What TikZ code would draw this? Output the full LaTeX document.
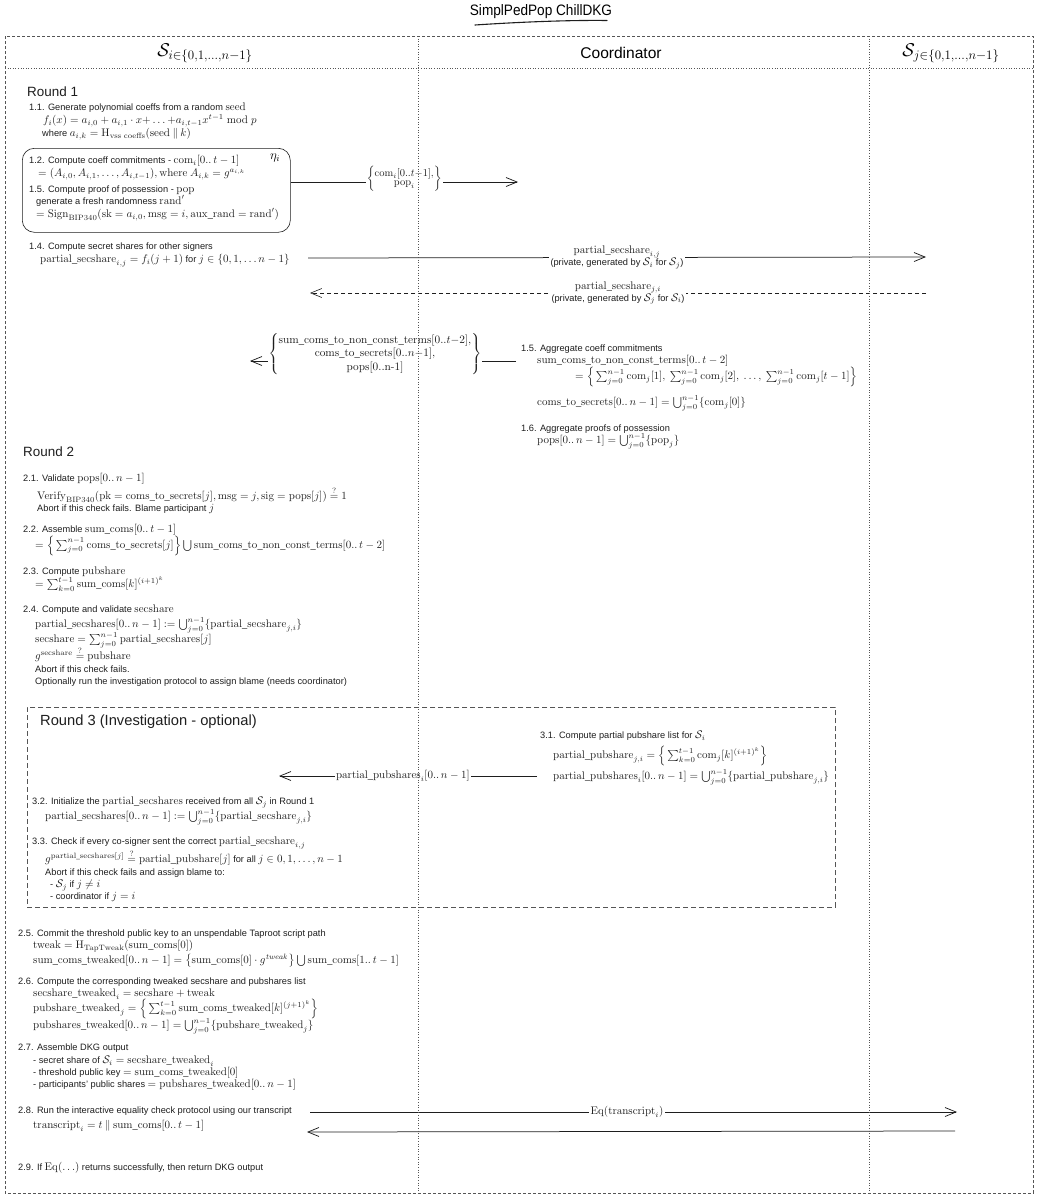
\RequirePackage{fix-cm}
\documentclass[tikz,border=0pt]{standalone}
\usepackage{amsmath,amssymb}
\usepackage[no-math]{fontspec}
\setmainfont{Liberation Sans}[Scale=0.84]
\newfontfamily\titlefont{Liberation Sans}[Scale=0.84,FakeStretch=0.9]
\usetikzlibrary{arrows.meta}
\definecolor{framegray}{HTML}{555555}
\definecolor{inkgray}{HTML}{1E1E1E}
\newcommand{\mrm}[1]{\mathrm{#1}}
\newcommand{\hyph}{\mbox{\fontfamily{lmr}\selectfont -}}
\setlength{\lineskiplimit}{-50pt}

\begin{document}
\begin{tikzpicture}[x=1pt,y=-1pt,
  stepnote/.style={anchor=north west, align=left, inner sep=0pt, text=inkgray,
    font=\fontsize{11}{13}\selectfont},
  roundlbl/.style={anchor=west, inner sep=0pt, text=inkgray, font=\fontsize{16}{18}\selectfont},
  hdrmath/.style={inner sep=0pt, font=\fontsize{18.5}{20}\selectfont},
  hdrtxt/.style={inner sep=0pt, font=\fontsize{18.5}{20}\selectfont},
  msglbl/.style={fill=white, inner sep=1.5pt, align=center, text=inkgray,
    font=\fontsize{11}{12}\selectfont},
  bracelbl/.style={fill=white, inner sep=1pt, text=inkgray, font=\fontsize{11.3}{13.5}\selectfont,
    execute at begin node={\setlength{\lineskiplimit}{0pt}}},
  msgarr/.style={-{Straight Barb[length=11pt,width=9pt]}, line width=0.75pt, color=inkgray},
  lifeline/.style={dotted, line width=0.6pt, color=framegray},
  framebox/.style={dash pattern=on 3pt off 2pt, line width=0.6pt, color=framegray}
]
\useasboundingbox (0,0) rectangle (1038,1200);

% title
\node[font=\titlefont\fontsize{18}{20}\selectfont] (title) at (541,12) {SimplPedPop ChillDKG};
\draw[line width=1.1pt, line cap=round, color=inkgray] (475,25) .. controls (520,22) and (570,20) .. (607,20.5);

% headers
\node[hdrmath] (hdrSi) at (205,53) {$\mathcal{S}_{i\in\{0,1,\ldots,n-1\}}$};
\node[hdrtxt] (hdrC) at (621,53) {Coordinator};
\node[hdrmath] (hdrSj) at (951,53) {$\mathcal{S}_{j\in\{0,1,\ldots,n-1\}}$};

% Round 1
\node[roundlbl] (r1) at (27,92) {Round 1};
\node[stepnote] (s11) at (29,103) {1.1. Generate polynomial coeffs from a random $\mrm{seed}$\\
  \hspace*{14pt}$f_i(x) = a_{i,0} + a_{i,1}\cdot x{+}\ldots{+}a_{i,t-1}x^{t-1} \bmod p$\\
  \hspace*{13pt}where $a_{i,k} = \mrm{H}_{\mrm{vss\ coeffs}}(\mrm{seed} \mathbin{\|} k)$};

\node[draw=inkgray, line width=0.6pt, rounded corners=12pt, minimum width=268pt, minimum height=84pt,
  anchor=north west, inner sep=0pt] (commitbox) at (22,148) {};
\node[font=\fontsize{13}{14}\selectfont, inner sep=0pt] (etai) at (275,158) {$\eta_i$};
\node[stepnote] (s12) at (29,155) {1.2. Compute coeff commitments - $\mrm{com}_i[0..\,t-1]$\\
  \hspace*{9pt}$= (A_{i,0}, A_{i,1}, \ldots, A_{i,t-1}), \mrm{where}\ A_{i,k} = g^{a_{i,k}}$};
\node[stepnote] (s15) at (29,186) {1.5. Compute proof of possession - $\mrm{pop}$\\[-1pt]
  \hspace*{7pt}generate a fresh randomness $\mrm{rand}'$\\
  \hspace*{7pt}$= \mrm{Sign}_{\mrm{BIP340}}(\mrm{sk} = a_{i,0}, \mrm{msg} = i, \mrm{aux\_rand} = \mrm{rand}')$};

\coordinate (comout) at (518,182);
\draw[msgarr] (commitbox.east |- comout) -- node[bracelbl, font=\fontsize{10.5}{12}\selectfont, yshift=3pt] (comlbl)
  {$\left\{\begin{array}{@{}c@{}}\mrm{com}_i[0..t{-}1],\\[-3pt] \mrm{pop}_i\end{array}\right\}$} (comout);

\node[stepnote] (s14) at (29,243) {1.4. Compute secret shares for other signers\\
  \hspace*{11pt}$\mrm{partial\_secshare}_{i,j} = f_i(j+1)$ for $j \in \{0,1,\ldots n-1\}$};
\coordinate (shareout) at (308,258);
\coordinate (sharein) at (926,257);
\draw[msgarr] (shareout) -- node[msglbl] (sharelbl)
  {$\mrm{partial\_secshare}_{i,j}$\\(private, generated by $\mathcal{S}_i$ for $\mathcal{S}_j$)} (sharein);
\coordinate (backout) at (926,293);
\coordinate (backin) at (310,293);
\draw[msgarr, line width=0.6pt, dash pattern=on 4pt off 3pt] (backout) -- node[msglbl] (backlbl)
  {$\mrm{partial\_secshare}_{j,i}$\\(private, generated by $\mathcal{S}_j$ for $\mathcal{S}_i$)} (backin);

% coordinator aggregation
\node[stepnote] (s15c) at (521,345) {1.5. Aggregate coeff commitments\\[-1pt]
  \hspace*{16pt}$\mrm{sum\_coms\_to\_non\_const\_terms}[0..\,t-2]$\\[3pt]
  \hspace*{54pt}$= \Big\{\sum_{j=0}^{n-1}\mrm{com}_j[1],\ \sum_{j=0}^{n-1}\mrm{com}_j[2],\ \ldots,\ \sum_{j=0}^{n-1}\mrm{com}_j[t-1]\Big\}$\\[13pt]
  \hspace*{16pt}$\mrm{coms\_to\_secrets}[0..\,n-1] = \bigcup_{j=0}^{n-1}\{\mrm{com}_j[0]\}$};
\node[stepnote] (s16c) at (521,425) {1.6. Aggregate proofs of possession\\[-1pt]
  \hspace*{16pt}$\mrm{pops}[0..\,n-1] = \bigcup_{j=0}^{n-1}\{\mrm{pop}_j\}$};
\coordinate (aggout) at (516,361);
\coordinate (aggin) at (250,361);
\draw[msgarr] (aggout) -- node[bracelbl, pos=0.53, yshift=7pt] (agglbl)
  {$\left\{\begin{array}{@{}c@{}}\mrm{sum\_coms\_to\_non\_const\_terms}[0..t{-}2],\\
    \mrm{coms\_to\_secrets}[0..n{-}1],\\ \mrm{pops}[0..\mrm{n}\hyph\mrm{1}]\end{array}\right\}$} (aggin);

% Round 2
\node[roundlbl] (r2) at (23,452) {Round 2};
\node[stepnote] (s21) at (23,473) {2.1. Validate $\mrm{pops}[0..\,n-1]$\\[5pt]
  \hspace*{14pt}$\mrm{Verify}_{\mrm{BIP340}}(\mrm{pk} = \mrm{coms\_to\_secrets}[j], \mrm{msg} = j, \mrm{sig} = \mrm{pops}[j]) \stackrel{?}{=} 1$\\[-1pt]
  \hspace*{14pt}Abort if this check fails. Blame participant $j$};
\node[stepnote] (s22) at (23,524) {2.2. Assemble $\mrm{sum\_coms}[0..\,t-1]$\\[3pt]
  \hspace*{12pt}$= \Big\{\sum_{j=0}^{n-1}\mrm{coms\_to\_secrets}[j]\Big\}\bigcup\mrm{sum\_coms\_to\_non\_const\_terms}[0..\,t-2]$};
\node[stepnote] (s23) at (23,567) {2.3. Compute $\mrm{pubshare}$\\
  \hspace*{12pt}$= \sum_{k=0}^{t-1}\mrm{sum\_coms}[k]^{(i+1)^k}$};
\node[stepnote] (s24) at (23,605) {2.4. Compute and validate $\mrm{secshare}$\\[2pt]
  \hspace*{12pt}$\mrm{partial\_secshares}[0..\,n-1] := \bigcup_{j=0}^{n-1}\{\mrm{partial\_secshare}_{j,i}\}$\\[2pt]
  \hspace*{12pt}$\mrm{secshare} = \sum_{j=0}^{n-1}\mrm{partial\_secshares}[j]$\\[4pt]
  \hspace*{12pt}$g^{\mrm{secshare}} \stackrel{?}{=} \mrm{pubshare}$\\
  \hspace*{12pt}Abort if this check fails.\\[-1pt]
  \hspace*{12pt}Optionally run the investigation protocol to assign blame (needs coordinator)};

% Round 3
\node[draw=framegray, line width=0.6pt, dash pattern=on 5pt off 3pt, minimum width=808pt, minimum height=200pt,
  anchor=north west, inner sep=0pt] (r3box) at (27,707) {};
\node[roundlbl, font=\fontsize{17.5}{19}\selectfont] (r3) at (40,722) {Round 3 (Investigation - optional)};
\node[stepnote] (s31) at (540,731) {3.1. Compute partial pubshare list for $\mathcal{S}_i$\\[7pt]
  \hspace*{13pt}$\mrm{partial\_pubshare}_{j,i} = \Big\{\sum_{k=0}^{t-1}\mrm{com}_j[k]^{(i+1)^k}\Big\}$\\[8pt]
  \hspace*{13pt}$\mrm{partial\_pubshares}_i[0..\,n-1] = \bigcup_{j=0}^{n-1}\{\mrm{partial\_pubshare}_{j,i}\}$};
\coordinate (pubout) at (537,776);
\coordinate (pubin) at (279,776);
\draw[msgarr] (pubout) -- node[msglbl, pos=0.52] (publbl) {$\mrm{partial\_pubshares}_i[0..\,n-1]$} (pubin);
\node[stepnote] (s32) at (32,797) {3.2. Initialize the $\mrm{partial\_secshares}$ received from all $\mathcal{S}_j$ in Round 1\\[2pt]
  \hspace*{13pt}$\mrm{partial\_secshares}[0..\,n-1] := \bigcup_{j=0}^{n-1}\{\mrm{partial\_secshare}_{j,i}\}$};
\node[stepnote] (s33) at (32,837) {3.3. Check if every co-signer sent the correct $\mrm{partial\_secshare}_{i,j}$\\[5pt]
  \hspace*{13pt}$g^{\mrm{partial\_secshares}[j]} \stackrel{?}{=} \mrm{partial\_pubshare}[j]$ for all $j \in 0,1,\ldots,n-1$\\
  \hspace*{13pt}Abort if this check fails and assign blame to:\\[-1pt]
  \hspace*{18pt}- $\mathcal{S}_j$ if $j \neq i$\\[-1pt]
  \hspace*{18pt}- coordinator if $j = i$};

% Round 2, after investigation
\node[stepnote] (s25) at (18,930) {2.5. Commit the threshold public key to an unspendable Taproot script path\\[-1pt]
  \hspace*{15pt}$\mrm{tweak} = \mrm{H}_{\mrm{TapTweak}}(\mrm{sum\_coms}[0])$\\[2pt]
  \hspace*{15pt}$\mrm{sum\_coms\_tweaked}[0..\,n-1] = \big\{\mrm{sum\_coms}[0]\cdot g^{\mathit{tweak}}\big\}\bigcup\mrm{sum\_coms}[1..\,t-1]$};
\node[stepnote] (s26) at (18,978) {2.6. Compute the corresponding tweaked secshare and pubshares list\\[-1pt]
  \hspace*{15pt}$\mrm{secshare\_tweaked}_i = \mrm{secshare} + \mrm{tweak}$\\[2pt]
  \hspace*{15pt}$\mrm{pubshare\_tweaked}_j = \Big\{\sum_{k=0}^{t-1}\mrm{sum\_coms\_tweaked}[k]^{(j+1)^k}\Big\}$\\[4pt]
  \hspace*{15pt}$\mrm{pubshares\_tweaked}[0..\,n-1] = \bigcup_{j=0}^{n-1}\{\mrm{pubshare\_tweaked}_j\}$};
\node[stepnote] (s27) at (18,1044) {2.7. Assemble DKG output\\
  \hspace*{15pt}- secret share of $\mathcal{S}_i = \mrm{secshare\_tweaked}_i$\\[-1pt]
  \hspace*{15pt}- threshold public key $= \mrm{sum\_coms\_tweaked}[0]$\\[-1pt]
  \hspace*{15pt}- participants' public shares $= \mrm{pubshares\_tweaked}[0..\,n-1]$};
\node[stepnote] (s28) at (18,1107) {2.8. Run the interactive equality check protocol using our transcript\\[2pt]
  \hspace*{15pt}$\mrm{transcript}_i = t \mathbin{\|} \mrm{sum\_coms}[0..\,t-1]$};
\coordinate (eqout) at (310,1112);
\coordinate (eqin) at (957,1112);
\draw[msgarr] (eqout) -- node[msglbl, pos=0.49] (eqlbl) {$\mrm{Eq}(\mrm{transcript}_i)$} (eqin);
\coordinate (eqback) at (955,1131);
\coordinate (eqret) at (307,1132);
\draw[msgarr] (eqback) -- (eqret);
\node[stepnote] (s29) at (18,1162) {2.9. If $\mrm{Eq}(\ldots)$ returns successfully, then return DKG output};

% frame and lifelines
\draw[framebox] (5,36) rectangle (1033,1193);
\draw[lifeline] (5,68) -- (1033,68);
\draw[lifeline] (418,36) -- (418,1193);
\draw[lifeline] (869,36) -- (869,1193);
\end{tikzpicture}
\end{document}
